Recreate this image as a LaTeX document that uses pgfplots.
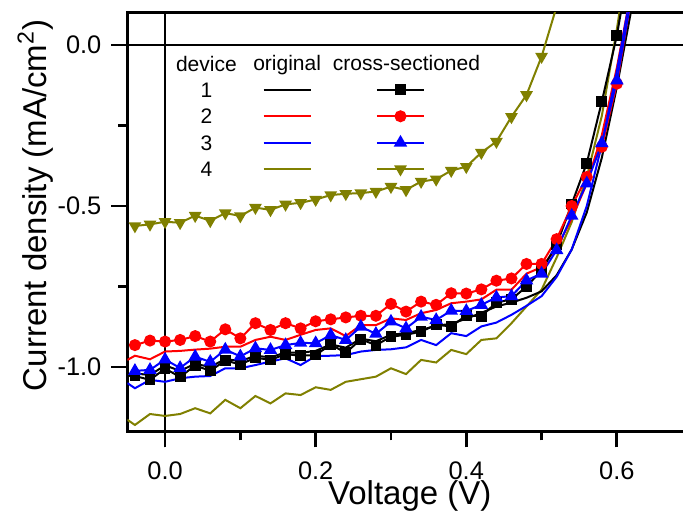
\documentclass[border=0pt]{standalone}
\usepackage{fontspec}
\setmainfont{Liberation Sans}
\usepackage{pgfplots}
\pgfplotsset{compat=1.18}
\definecolor{olive4}{RGB}{128,128,0}
\begin{document}
\begin{tikzpicture}
\useasboundingbox (-63.7pt,-40.3pt) rectangle (277.8pt,215.7pt);
\clip (-63.7pt,-40.3pt) rectangle (277.8pt,215.7pt);
\begin{axis}[
  scale only axis, width=282.4pt, height=209.3pt,
  at={(0pt,0pt)}, anchor=south west,
  xmin=-0.05, xmax=0.7, ymin=-1.2, ymax=0.1,
  xtick={0,0.2,0.4,0.6}, ytick={-1,-0.5,0},
  minor xtick={0.1,0.3,0.5}, minor ytick={-0.75,-0.25},
  xtick pos=bottom, ytick pos=left,
  tick align=outside,
  major tick length=8pt, minor tick length=4.5pt,
  every tick/.style={black, line width=1.4pt},
  axis line style={line width=1.6pt},
  /pgf/number format/assume math mode=true,
  /pgf/number format/.cd, fixed, fixed zerofill, precision=1, /pgfplots/.cd,
  ticklabel style={font=\fontsize{12.7}{15}\selectfont},
  xticklabel style={yshift=-3.6pt},
  yticklabel style={xshift=-1.5pt},
  xlabel={Voltage (V)},
  ylabel={Current density (mA/cm$^{\mathrm{2}}$)},
  label style={font=\fontsize{16.5}{19}\selectfont},
  xlabel style={at={(axis description cs:0.5,0)}, anchor=center, yshift=-32.3pt},
  ylabel style={at={(axis description cs:-0.163,0.54)}, anchor=center, rotate=0},
  extra x ticks={0}, extra x tick labels={},
  extra y ticks={0}, extra y tick labels={},
  extra tick style={grid=major, major grid style={black, line width=1.2pt}},
  legend image code/.code={\draw[mark repeat=2,mark phase=2,#1] plot coordinates {(-11.75pt,0.8pt) (0pt,0.8pt) (11.75pt,0.8pt)};},
  legend cell align=center,
  legend columns=3,
  legend style={draw=none, fill=none, inner sep=0pt, outer sep=0pt,
    at={(axis cs:0.0146,-0.022)}, anchor=north west,
    font=\fontsize{10.5}{12}\selectfont,
    nodes={inner sep=0pt, text height=9pt, text depth=3pt},
    row sep=1.2pt, column sep=0pt,
    /tikz/column 2/.style={column sep=8.25pt},
    /tikz/column 4/.style={column sep=5pt}},
]
% legend header and rows
\addlegendimage{empty legend}\addlegendentry{device}
\addlegendimage{legend image code/.code={\node[anchor=base, inner sep=0pt] at (0pt,-2.5pt) {original};}}\addlegendentry{}
\addlegendimage{legend image code/.code={\node[anchor=base, inner sep=0pt] at (3pt,-2.5pt) {cross-sectioned};}}\addlegendentry{}
\addlegendimage{empty legend}\addlegendentry{1}
\addlegendimage{black, line width=1pt}\addlegendentry{}
\addlegendimage{black, line width=1pt, mark=square*, mark size=2.2pt}\addlegendentry{}
\addlegendimage{empty legend}\addlegendentry{2}
\addlegendimage{red, line width=1pt}\addlegendentry{}
\addlegendimage{red, line width=1pt, mark=*, mark size=2.5pt}\addlegendentry{}
\addlegendimage{empty legend}\addlegendentry{3}
\addlegendimage{blue, line width=1pt}\addlegendentry{}
\addlegendimage{blue, line width=1pt, mark=triangle*, mark size=2.9pt}\addlegendentry{}
\addlegendimage{empty legend}\addlegendentry{4}
\addlegendimage{olive4, line width=1pt}\addlegendentry{}
\addlegendimage{olive4, line width=1pt, mark=triangle*, mark size=2.7pt, mark options={rotate=180}}\addlegendentry{}

% original devices
\addplot[forget plot, olive4, line width=1pt] coordinates {
(-0.05,-1.164) (-0.04,-1.180) (-0.02,-1.146) (0.00,-1.152) (0.02,-1.146) (0.04,-1.128)
(0.06,-1.144) (0.08,-1.102) (0.10,-1.128) (0.12,-1.090) (0.14,-1.113) (0.16,-1.082)
(0.18,-1.087) (0.20,-1.063) (0.22,-1.071) (0.24,-1.046) (0.26,-1.038) (0.28,-1.030)
(0.30,-1.004) (0.32,-1.022) (0.34,-0.978) (0.36,-0.986) (0.38,-0.947) (0.40,-0.960)
(0.42,-0.916) (0.44,-0.911) (0.46,-0.864) (0.48,-0.812) (0.50,-0.760) (0.52,-0.660)
(0.54,-0.550) (0.56,-0.410) (0.58,-0.220) (0.60,0.050) (0.62,0.350)};
\addplot[forget plot, black, line width=1pt] coordinates {
(-0.05,-1.030) (-0.04,-1.020) (-0.02,-1.025) (0.00,-0.995) (0.02,-1.012) (0.04,-0.990)
(0.06,-1.000) (0.08,-0.975) (0.10,-0.982) (0.12,-0.965) (0.14,-0.970) (0.16,-0.955)
(0.18,-0.956) (0.20,-0.950) (0.22,-0.930) (0.24,-0.940) (0.26,-0.912) (0.28,-0.920)
(0.30,-0.900) (0.32,-0.895) (0.34,-0.885) (0.36,-0.872) (0.38,-0.866) (0.40,-0.850)
(0.42,-0.832) (0.44,-0.812) (0.46,-0.800) (0.48,-0.785) (0.50,-0.765) (0.52,-0.715)
(0.54,-0.635) (0.56,-0.520) (0.58,-0.350) (0.60,-0.130) (0.62,0.120) (0.64,0.400)};
\addplot[forget plot, red, line width=1pt] coordinates {
(-0.05,-0.978) (-0.04,-0.965) (-0.02,-0.976) (0.00,-0.952) (0.02,-0.950) (0.04,-0.946)
(0.06,-0.943) (0.08,-0.937) (0.10,-0.937) (0.12,-0.916) (0.14,-0.906) (0.16,-0.916)
(0.18,-0.900) (0.20,-0.885) (0.22,-0.880) (0.24,-0.904) (0.26,-0.870) (0.28,-0.870)
(0.30,-0.849) (0.32,-0.854) (0.34,-0.833) (0.36,-0.823) (0.38,-0.802) (0.40,-0.797)
(0.42,-0.790) (0.44,-0.760) (0.46,-0.760) (0.48,-0.710) (0.50,-0.690) (0.52,-0.630)
(0.54,-0.540) (0.56,-0.430) (0.58,-0.280) (0.60,-0.070) (0.62,0.180) (0.64,0.450)};
\addplot[forget plot, blue, line width=1pt] coordinates {
(-0.05,-1.050) (-0.04,-1.066) (-0.02,-1.040) (0.00,-1.046) (0.02,-1.035) (0.04,-1.030)
(0.06,-1.028) (0.08,-1.004) (0.10,-1.004) (0.12,-0.994) (0.14,-0.983) (0.16,-0.973)
(0.18,-0.994) (0.20,-0.966) (0.22,-0.965) (0.24,-0.963) (0.26,-0.952) (0.28,-0.947)
(0.30,-0.945) (0.32,-0.939) (0.34,-0.916) (0.36,-0.932) (0.38,-0.895) (0.40,-0.904)
(0.42,-0.874) (0.44,-0.862) (0.46,-0.838) (0.48,-0.810) (0.50,-0.780) (0.52,-0.720)
(0.54,-0.635) (0.56,-0.500) (0.58,-0.310) (0.60,-0.080) (0.62,0.180) (0.64,0.450)};

% cross-sectioned devices
\addplot[forget plot, olive4, line width=1pt, mark=triangle*, mark size=2.7pt, mark options={rotate=180}] coordinates {
(-0.04,-0.562) (-0.02,-0.557) (0.00,-0.549) (0.02,-0.552) (0.04,-0.530) (0.06,-0.546)
(0.08,-0.522) (0.10,-0.531) (0.12,-0.505) (0.14,-0.512) (0.16,-0.495) (0.18,-0.490)
(0.20,-0.480) (0.22,-0.466) (0.24,-0.462) (0.26,-0.460) (0.28,-0.455) (0.30,-0.440)
(0.32,-0.450) (0.34,-0.424) (0.36,-0.417) (0.38,-0.390) (0.40,-0.378) (0.42,-0.334)
(0.44,-0.300) (0.46,-0.223) (0.48,-0.155) (0.50,-0.036) (0.52,0.120)};
\addplot[forget plot, black, line width=1pt, mark=square*, mark size=2.2pt] coordinates {
(-0.04,-1.028) (-0.02,-1.040) (0.00,-1.005) (0.02,-1.031) (0.04,-0.995) (0.06,-1.012)
(0.08,-0.980) (0.10,-0.992) (0.12,-0.971) (0.14,-0.978) (0.16,-0.960) (0.18,-0.965)
(0.20,-0.963) (0.22,-0.930) (0.24,-0.956) (0.26,-0.914) (0.28,-0.932) (0.30,-0.906)
(0.32,-0.900) (0.34,-0.890) (0.36,-0.869) (0.38,-0.874) (0.40,-0.840) (0.42,-0.842)
(0.44,-0.800) (0.46,-0.790) (0.48,-0.750) (0.50,-0.700) (0.52,-0.620) (0.54,-0.494)
(0.56,-0.367) (0.58,-0.176) (0.60,0.030) (0.62,0.300)};
\addplot[forget plot, red, line width=1pt, mark=*, mark size=2.5pt] coordinates {
(-0.04,-0.932) (-0.02,-0.918) (0.00,-0.921) (0.02,-0.916) (0.04,-0.904) (0.06,-0.921)
(0.08,-0.883) (0.10,-0.911) (0.12,-0.864) (0.14,-0.885) (0.16,-0.864) (0.18,-0.880)
(0.20,-0.858) (0.22,-0.852) (0.24,-0.846) (0.26,-0.841) (0.28,-0.841) (0.30,-0.804)
(0.32,-0.828) (0.34,-0.797) (0.36,-0.807) (0.38,-0.771) (0.40,-0.772) (0.42,-0.759)
(0.44,-0.732) (0.46,-0.725) (0.48,-0.680) (0.50,-0.680) (0.52,-0.603) (0.54,-0.500)
(0.56,-0.410) (0.58,-0.316) (0.60,-0.120) (0.62,0.160)};
\addplot[forget plot, blue, line width=1pt, mark=triangle*, mark size=2.9pt] coordinates {
(-0.04,-1.012) (-0.02,-1.009) (0.00,-0.977) (0.02,-1.003) (0.04,-0.968) (0.06,-0.984)
(0.08,-0.946) (0.10,-0.967) (0.12,-0.942) (0.14,-0.947) (0.16,-0.932) (0.18,-0.925)
(0.20,-0.926) (0.22,-0.901) (0.24,-0.916) (0.26,-0.875) (0.28,-0.897) (0.30,-0.859)
(0.32,-0.880) (0.34,-0.844) (0.36,-0.854) (0.38,-0.825) (0.40,-0.826) (0.42,-0.807)
(0.44,-0.784) (0.46,-0.780) (0.48,-0.731) (0.50,-0.710) (0.52,-0.637) (0.54,-0.530)
(0.56,-0.430) (0.58,-0.305) (0.60,-0.110) (0.62,0.160)};
\end{axis}
\end{tikzpicture}
\end{document}
